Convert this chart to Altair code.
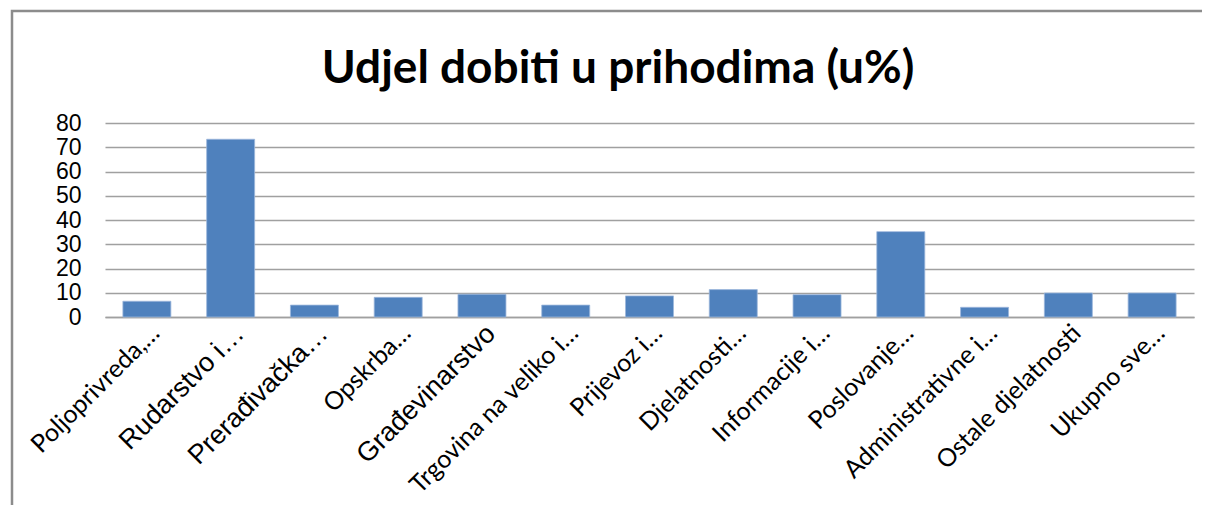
import altair as alt
import pandas as pd

categories = [
    "Poljoprivreda,…", "Rudarstvo i…", "Prerađivačka…", "Opskrba…",
    "Građevinarstvo", "Trgovina na veliko i…", "Prijevoz i…", "Djelatnosti…",
    "Informacije i…", "Poslovanje…", "Administrativne i…", "Ostale djelatnosti",
    "Ukupno sve…",
]
values = [6.5, 73.3, 4.9, 8.1, 9.4, 4.9, 8.7, 11.3, 9.2, 35.2, 4.0, 9.9, 9.9]
big_labels = ["Rudarstvo i…", "Prerađivačka…", "Građevinarstvo"]
y_ticks = [0, 10, 20, 30, 40, 50, 60, 70, 80]
title_text = ["Udjel dobiti u prihodima (u%)"]

df = pd.DataFrame({"kat": categories, "val": values})

big_test = "indexof(" + str(big_labels).replace("'", '"') + ", datum.value) >= 0"

bars = alt.Chart(df).mark_bar(color="#4F81BD", stroke="#9DB8DC", strokeWidth=0.8).encode(
    x=alt.X(
        "kat:N",
        sort=categories,
        title=None,
        scale=alt.Scale(paddingInner=0.427, paddingOuter=0.2135),
        axis=alt.Axis(
            labelAngle=-45,
            labelAlign="right",
            labelBaseline="top",
            labelFont={"condition": {"test": big_test, "value": "Liberation Sans"}, "value": "Lato"},
            labelFontSize={"condition": {"test": big_test, "value": 27}, "value": 25},
            labelColor="#000000",
            labelPadding=3,
            labelLimit=400,
            ticks=False,
            domainColor="#A0A0A0",
            domainWidth=1.5,
            grid=False,
        ),
    ),
    y=alt.Y(
        "val:Q",
        title=None,
        scale=alt.Scale(domain=[0, 80], nice=False),
        axis=alt.Axis(
            values=y_ticks,
            labelFont="Liberation Sans",
            labelFontSize=23,
            labelColor="#000000",
            labelPadding=24,
            ticks=False,
            domain=False,
            grid=True,
            gridColor="#A0A0A0",
            gridWidth=1.5,
        ),
    ),
)

frame = alt.Chart(pd.DataFrame({"f": [0]})).mark_rect(
    fillOpacity=0, stroke="#8C8C8C", strokeWidth=2.5
).encode(
    x=alt.value(-93), x2=alt.value(1300), y=alt.value(-112), y2=alt.value(700)
)

title = alt.Chart(pd.DataFrame({"t": title_text})).mark_text(
    font="Lato", fontSize=46, fontWeight="bold", color="#000000",
    align="center", baseline="alphabetic",
).encode(text="t:N", x=alt.value(513), y=alt.value(-40))

chart = alt.layer(frame, title, bars).properties(
    width=1089,
    height=194,
    autosize=alt.AutoSizeParams(type="none"),
    padding={"left": 97, "top": 115, "right": 8, "bottom": 188},
).configure_view(stroke=None)

chart.save("out.html", embed_options={"renderer": "svg", "actions": False})
